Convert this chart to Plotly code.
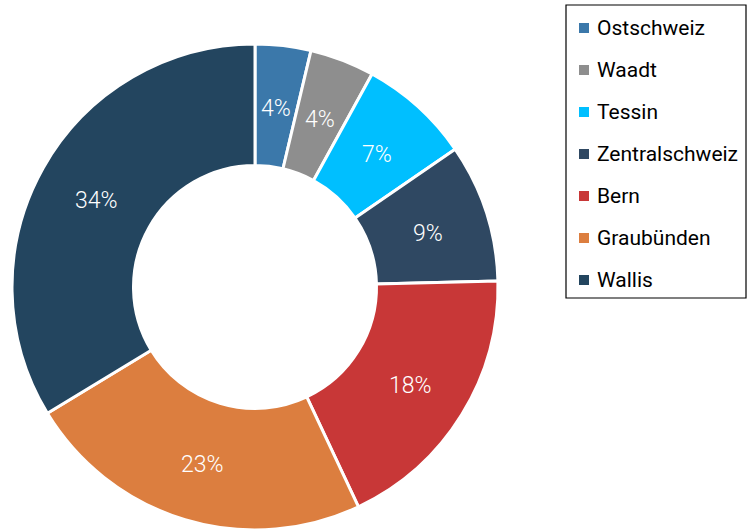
import math
import plotly.graph_objects as go

regions = ["Ostschweiz", "Waadt", "Tessin", "Zentralschweiz", "Bern", "Graubünden", "Wallis"]
shares = [3.7, 4.3, 7.4, 9.2, 18.4, 23.3, 33.7]
colors = ["#3b78aa", "#8e8e8e", "#00bfff", "#2f4862", "#c83737", "#dc7e3f", "#23455f"]

W, H = 747, 530
FONT = "Roboto"

# Donut geometry in pixels
cx, cy, r_out = 255, 287, 243
hole = 0.5

fig = go.Figure(
    go.Pie(
        labels=regions,
        values=shares,
        sort=False,
        direction="clockwise",
        rotation=0,
        hole=hole,
        marker=dict(colors=colors, line=dict(color="white", width=3)),
        textinfo="none",
        domain=dict(x=[(cx - r_out) / W, (cx + r_out) / W],
                    y=[max(0, 1 - (cy + r_out) / H), 1 - (cy - r_out) / H]),
        showlegend=False,
    )
)

annotations = []

# Percentage labels centred in the ring at each slice's mid-angle
total = sum(shares)
r_mid = r_out * (1 + hole) / 2
cum = 0.0
for v in shares:
    mid = (cum + v / 2) / total * 2 * math.pi
    cum += v
    x = cx + r_mid * math.sin(mid)
    y = cy - r_mid * math.cos(mid)
    annotations.append(dict(x=x / W, y=1 - y / H, xref="paper", yref="paper",
                            xanchor="center", yanchor="middle", showarrow=False,
                            yshift=-3,
                            text=f"{round(v / total * 100)}%",
                            font=dict(family=FONT, size=23, color="white", weight=300)))

# Legend box with one row per region
box_left, box_top, box_right, box_bottom = 566, 5, 746, 298
row0, row_step = 28, 42
shapes = [
    dict(type="rect", xref="paper", yref="paper",
         x0=box_left / W, x1=box_right / W, y0=1 - box_bottom / H, y1=1 - box_top / H,
         line=dict(color="black", width=1.2), fillcolor="rgba(0,0,0,0)")
]
for i, (name, col) in enumerate(zip(regions, colors)):
    yc = row0 + i * row_step
    shapes.append(dict(type="rect", xref="paper", yref="paper",
                       x0=579 / W, x1=589 / W, y0=1 - (yc + 5) / H, y1=1 - (yc - 5) / H,
                       line=dict(width=0), fillcolor=col))
    annotations.append(dict(x=595 / W, y=1 - yc / H, xref="paper", yref="paper",
                            xanchor="left", yanchor="middle", showarrow=False,
                            text=name, font=dict(family=FONT, size=21, color="black")))

fig.update_layout(
    width=W, height=H,
    margin=dict(l=0, r=0, t=0, b=0),
    paper_bgcolor="white",
    plot_bgcolor="white",
    shapes=shapes,
    annotations=annotations,
)

fig.write_html("out.html")
